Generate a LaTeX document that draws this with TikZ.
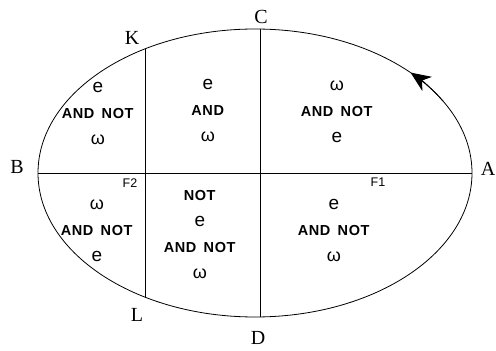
\documentclass[tikz,border=0pt]{standalone}
\usepackage{fontspec}
\setmainfont{Liberation Serif}
\newfontfamily\lbsans{Liberation Sans}
\usetikzlibrary{arrows.meta,calc}
\newcommand{\ee}{{\fontsize{19}{26}\selectfont e}}
\newcommand{\ww}{{\fontsize{18}{26}\selectfont ω}}
\newcommand{\andnot}{{\addfontfeature{LetterSpace=4}\textbf{AND\hspace{0.5em}NOT}}}
\newcommand{\andd}{{\addfontfeature{LetterSpace=4}\textbf{AND}}}
\newcommand{\nott}{{\addfontfeature{LetterSpace=4}\textbf{NOT}}}
\begin{document}
\begin{tikzpicture}[x=1pt,y=1pt,
  region/.style={font=\lbsans\fontsize{14.5}{26}\selectfont, align=center, inner sep=0pt},
  ptlabel/.style={font=\fontsize{20}{20}\selectfont, inner sep=0pt},
  focus/.style={font=\lbsans\fontsize{12.5}{14}\selectfont, inner sep=0pt},
  outline/.style={line width=0.8pt},
  divider/.style={line width=0.8pt}]
\useasboundingbox (0,0) rectangle (496,351);
\coordinate (O) at (255,178);
\draw[outline] (O) ellipse [x radius=217, y radius=144];
\coordinate (Bp) at (38,178);
\coordinate (Ap) at (472,178);
\coordinate (Cp) at (260,321.96);
\coordinate (Dp) at (260,34.04);
\coordinate (Kp) at (145,302.1);
\coordinate (Lp) at (145,53.9);
\draw[divider] (Bp) -- (Ap);
\draw[divider] (Cp) -- (Dp);
\draw[divider] (Kp) -- (Lp);
% direction arrow on the ellipse
\coordinate (arrs) at ($(O)+(30:217 and 144)$);
\draw[outline,-{Stealth[length=20pt,width=17pt,inset=6pt]}] (arrs) arc[start angle=30, end angle=44.2, x radius=217, y radius=144];
% point labels
\node[ptlabel] (K) at (132,313) {K};
\node[ptlabel] (C) at (261,334) {C};
\node[ptlabel] (B) at (17,184) {B};
\node[ptlabel] (A) at (488,182) {A};
\node[ptlabel] (L) at (137,36) {L};
\node[ptlabel] (D) at (258,13) {D};
\node[focus] (F2) at (130,168) {F2};
\node[focus] (F1) at (378,169) {F1};
% region texts
\node[region] (tl) at (98,238) {\ee\\\andnot\\\ww};
\node[region] (tm) at (208,241) {\ee\\\andd\\\ww};
\node[region] (tr) at (337,239) {\ww\\\andnot\\\ee};
\node[region] (bl) at (97,120) {\ww\\\andnot\\\ee};
\node[region] (bm) at (200,116) {\nott\\\ee\\\andnot\\\ww};
\node[region] (br) at (334,121) {\ee\\\andnot\\\ww};
\end{tikzpicture}
\end{document}
